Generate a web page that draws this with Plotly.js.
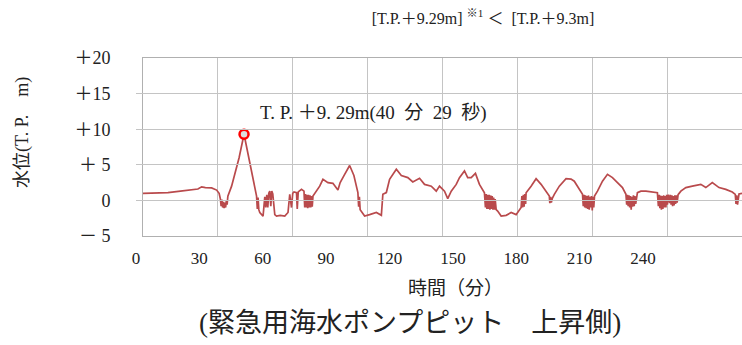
<!DOCTYPE html>
<html>
<head>
<meta charset="utf-8">
<script src="https://cdn.plot.ly/plotly-3.0.1.min.js"></script>
<style>html,body{margin:0;padding:0;background:#fff;}#chart{width:742px;height:345px;}</style>
</head>
<body>
<div id="chart"></div>
<script>
// time (minutes)
var timeMin = [
  0, 5, 10, 15, 19, 22, 23.5, 25, 27.5, 29.5, 30.5,
  31.0, 31.3, 31.6, 31.9, 32.2, 32.5, 32.8, 33.1, 33.4, 33.7, 34.0,
  35.5, 37.5, 38.5, 40.48, 42.8, 45.5,
  45.8, 46.1, 46.4, 46.8, 48.1, 48.8,
  49.2, 49.6, 50.0, 50.4, 50.8, 51.2, 51.6, 52.0,
  52.8, 53.5, 55.0, 56.8, 58.1, 58.8,
  59.5, 60.0, 60.5, 61.5, 61.8, 62.2, 63.5, 64.5,
  64.8, 65.1, 65.4, 65.7, 66.0, 66.3, 66.6, 66.9, 67.2, 67.5, 67.8, 68.1,
  70.8, 72.1, 74.1, 76.1, 78.1, 79.0, 80.8, 82.8, 84.5, 86.1,
  86.4, 86.7, 87.0, 88.8, 90.8, 93.5, 95.5, 96.1, 97.5, 98.8,
  101.5, 103.5, 106.1, 108.1, 110.8, 112.8, 115.5, 117.5, 118.8, 120.8,
  122.1, 123.5, 125.5, 126.8, 128.8, 130.1, 131.5, 133.2, 134.8, 136.8,
  137.2, 137.5, 137.8, 138.1, 138.4, 138.7, 139.0, 139.3, 139.6, 139.9, 140.2, 140.5, 140.8, 141.1, 141.5,
  142.1, 143.5, 145.5, 147.5, 149.5, 151.5,
  151.8, 152.1, 152.4, 152.7, 153.0, 153.3,
  153.5, 155.5, 157.5, 159.5, 160.8, 162.8,
  163.0, 163.3, 163.6, 164.0,
  164.8, 166.8, 169.5, 171.5, 172.8, 174.8, 176.1,
  176.4, 176.7, 177.0, 177.3, 177.6, 177.9, 178.2, 178.5, 178.8, 179.1, 179.4, 179.7, 180.0, 180.3, 180.6, 180.9,
  182.1, 184.1, 186.1, 188.1, 190.1, 192.1, 193.5,
  193.8, 194.1, 194.4, 194.7, 195.0, 195.3, 195.6, 195.9, 196.2, 196.5, 196.8, 197.1, 197.4,
  198.1, 199.5, 201.5, 204.1, 206.1,
  206.5, 206.8, 207.1, 207.4, 207.7, 208.0, 208.3, 208.6, 208.9, 209.2, 209.5, 209.8, 210.1, 210.5,
  211.0, 211.3, 211.6, 211.9, 212.2, 212.5, 212.8, 213.1, 213.4, 213.7, 214.0, 214.4,
  215.5, 217.5, 220.1, 223.5, 225.5, 228.1, 230.8, 233.5, 236.1, 237.3,
  237.6, 237.9, 238.2, 238.5, 238.8, 240
];
// water level (T.P. m)
var waterLevel = [
  1.0, 1.0, 1.1, 1.3, 1.45, 1.6, 1.9, 1.8, 1.75, 1.45, 1.0,
  0.2, -0.8, 0.1, -1.0, -0.2, -1.1, -0.3, -1.0, 0.0, -0.6, 0.6,
  2.0, 4.8, 6.0, 9.29, 5.3, 0.6,
  -1.2, 0.4, -1.3, -1.7, -2.2, 0.5,
  -1.0, 0.8, -1.0, 1.0, 1.3, -0.8, 1.3, 0.9,
  -2.0, -2.2, -2.1, -2.2, -1.7, 0.85,
  -1.0, 1.0, 1.2, 1.1, -1.2, 1.2, 1.55, 1.3,
  -1.0, 0.9, -1.0, 0.8, -1.1, 0.8, -1.0, 0.7, -1.0, 0.6, -0.9, 0.6,
  2.0, 2.96, 2.5, 2.4, 1.45, 2.5, 3.66, 4.9, 3.5, 1.1,
  -0.9, 0.5, -1.3, -2.2, -2.0, -1.7, -2.1, 0.85, 1.1, 2.96,
  4.37, 3.5, 3.2, 2.6, 3.1, 2.25, 2.0, 1.3, 2.0, 1.3,
  0.24, 1.3, 2.25, 3.2, 4.13, 3.2, 3.2, 3.8, 2.25, 1.08,
  -1.0, 0.9, -1.2, 0.8, -1.2, 0.8, -1.3, 0.7, -1.2, 0.6, -1.3, 0.4, -1.3, 0.2, -1.3,
  -1.5, -2.2, -2.1, -1.7, -2.0, -1.0,
  0.6, -1.0, 0.8, -0.9, 0.9, -0.5,
  1.08, 2.0, 3.05, 2.25, 1.55, 0.6,
  -0.4, 0.5, -0.3, 0.3,
  0.85, 2.0, 3.05, 3.0, 2.7, 1.55, 0.85,
  -0.8, 0.8, -1.0, 0.7, -1.1, 0.6, -1.2, 0.7, -1.3, 0.5, -1.0, 0.6, -1.4, 0.5, -1.0, 0.6,
  1.3, 2.7, 3.66, 3.2, 2.5, 1.8, 0.85,
  -0.6, 0.8, -0.8, 0.7, -1.0, 0.6, -1.3, 0.5, -0.9, 0.7, -0.8, 0.6, -0.5,
  1.08, 1.3, 1.3, 1.17, 1.08,
  -0.8, 0.8, -1.1, 0.7, -1.3, 0.6, -1.2, 0.7, -1.0, 0.6, -1.0, 0.8, -0.6, 0.8,
  -0.4, 0.8, -0.6, 0.7, -0.8, 0.6, -0.7, 0.7, -0.5, 0.7, -0.3, 0.8,
  1.3, 1.8, 2.0, 2.25, 1.8, 2.5, 1.8, 1.55, 1.17, 0.85,
  -0.5, 0.7, -0.6, 0.6, 0.9, 1.0
];
var peakTime = [40.48];
var peakLevel = [9.29];
var peakLabel = "T.\u00a0P.\u00a0＋9.\u00a029m(40\u00a0\u00a0分\u00a0\u00a029\u00a0\u00a0秒)";
var yTickVals = [20, 15, 10, 5, 0, -5];
var yTickText = ["＋20", "＋15", "＋10", "＋ 5", "0", "－ 5"];
var xGridVals = [0, 30, 60, 90, 120, 150, 180, 210, 240];
var xTickLabels = [0, 30, 60, 90, 120, 150, 180, 210, 240];
var titleText = "[T.P.＋9.29m] <sup>※1</sup> ＜  [T.P.＋9.3m]";
var yTitle = "水位(T.\u00a0P.\u00a0\u00a0\u00a0\u00a0m)";
var xTitle = "時間（分）";
var caption = "(緊急用海水ポンプピット　上昇側)";

var FONT = "'Liberation Serif', 'Noto Sans CJK JP', serif";
var L = 130, W = 742 - L; // paper area in px
function px(xp) { return (xp - L) / W; }
function py(yp) { return (236 - yp) / 178; }

var traces = [
  {
    x: timeMin, y: waterLevel, xaxis: 'x', yaxis: 'y',
    type: 'scatter', mode: 'lines',
    line: {color: '#b94a4c', width: 1.7},
    hoverinfo: 'skip', showlegend: false
  },
  {
    x: peakTime, y: peakLevel, xaxis: 'x', yaxis: 'y',
    type: 'scatter', mode: 'markers',
    marker: {size: 9, color: '#dddddd', line: {color: '#ff0000', width: 2.5}},
    hoverinfo: 'skip', showlegend: false
  },
  {
    x: xTickLabels, y: xTickLabels.map(function(){return null;}), xaxis: 'x2', yaxis: 'y',
    type: 'scatter', mode: 'lines', hoverinfo: 'skip', showlegend: false
  }
];

var layout = {
  width: 742, height: 345,
  margin: {l: L, r: 0, t: 58, b: 109},
  paper_bgcolor: '#ffffff', plot_bgcolor: 'rgba(0,0,0,0)',
  font: {family: FONT, color: '#222222', size: 16},
  title: {
    text: titleText,
    font: {family: FONT, size: 16, color: '#222222'},
    x: 483 / 742, xanchor: 'center', xref: 'container',
    y: 1 - 18 / 345, yanchor: 'middle', yref: 'container'
  },
  xaxis: {
    domain: [px(143), 1],
    range: [0, 240], tickvals: xGridVals, showticklabels: false, ticks: '',
    showgrid: true, gridcolor: '#c4c4c4', gridwidth: 1,
    showline: true, linecolor: '#b0b0b0', linewidth: 1, mirror: true,
    zeroline: false, fixedrange: true
  },
  xaxis2: {
    domain: [px(136), 1], anchor: 'y', side: 'bottom',
    range: [0, (742 - 136) / 2.1125], tickvals: xTickLabels, ticktext: xTickLabels.map(String),
    showgrid: false, zeroline: false, showline: false, ticks: '',
    ticklabelstandoff: 10,
    tickfont: {family: FONT, size: 17, color: '#222222'}, fixedrange: true
  },
  yaxis: {
    anchor: 'x',
    range: [-5, 20], tickvals: yTickVals, ticktext: yTickText, ticks: '',
    ticklabelstandoff: 28,
    tickfont: {family: FONT, size: 18, color: '#222222'},
    showgrid: true, gridcolor: '#c4c4c4', gridwidth: 1,
    showline: true, linecolor: '#b0b0b0', linewidth: 1, mirror: true,
    zeroline: false, fixedrange: true
  },
  annotations: [
    {
      text: peakLabel, xref: 'x', yref: 'y', x: 46, y: 12.3,
      xanchor: 'left', yanchor: 'middle', showarrow: false,
      font: {family: FONT, size: 19, color: '#222222'}
    },
    {
      text: yTitle, xref: 'paper', yref: 'paper',
      x: px(22), y: py(133),
      xanchor: 'center', yanchor: 'middle', textangle: -90, showarrow: false,
      font: {family: FONT, size: 18, color: '#222222'}
    },
    {
      text: xTitle, xref: 'paper', yref: 'paper',
      x: px(455), y: py(288),
      xanchor: 'center', yanchor: 'middle', showarrow: false,
      font: {family: FONT, size: 19, color: '#222222'}
    },
    {
      text: caption, xref: 'paper', yref: 'paper',
      x: px(410), y: py(323),
      xanchor: 'center', yanchor: 'middle', showarrow: false,
      font: {family: FONT, size: 27, color: '#222222'}
    }
  ]
};

Plotly.newPlot('chart', traces, layout, {staticPlot: true, displayModeBar: false});
</script>
</body>
</html>
